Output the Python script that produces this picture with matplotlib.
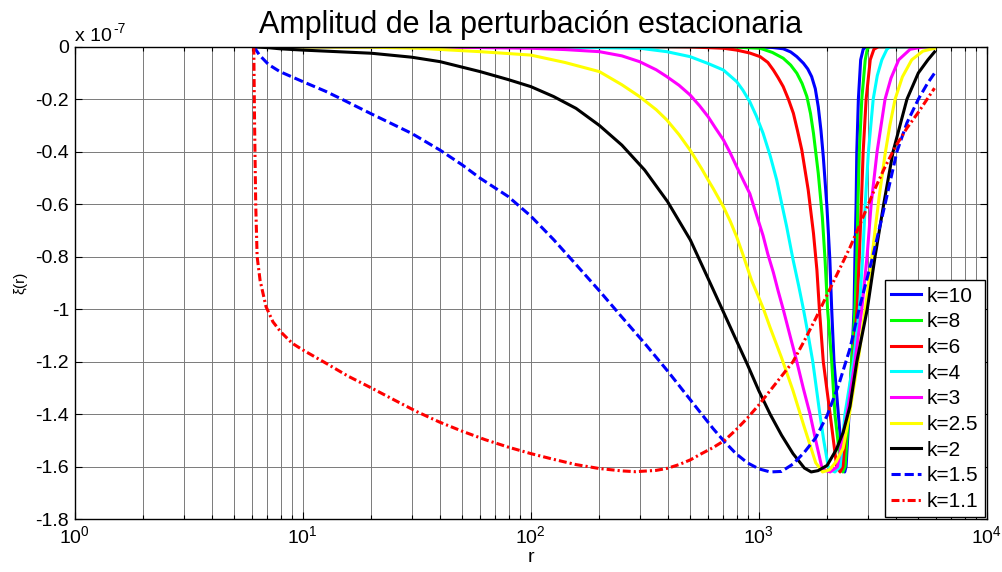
import numpy as np
import matplotlib
matplotlib.use("Agg")
import matplotlib.pyplot as plt
from matplotlib.ticker import FuncFormatter, LogLocator

plt.rcParams['font.family'] = ['Liberation Sans', 'DejaVu Sans']
plt.rcParams['axes.unicode_minus'] = False
plt.rcParams['mathtext.default'] = 'regular'

# xi(r) in units of 1e-7, one pair of lists per k
r_k10 = [6.1, 600, 1000, 1148, 1280, 1380, 1469, 1570, 1641, 1706, 1770, 1824, 1875, 1919, 1991, 2051, 2089,
         2138, 2234, 2312, 2350, 2382, 2415, 2489, 2559, 2618, 2642, 2673, 2692, 2735, 2799, 2871, 2951, 5900]
xi_k10 = [0, 0, -0.001, -0.003, -0.008, -0.02, -0.038, -0.063, -0.085, -0.114, -0.16, -0.229, -0.32, -0.419, -0.61, -0.813, -1.0,
          -1.2, -1.4, -1.55, -1.6, -1.62, -1.6, -1.4, -1.2, -1.0, -0.8, -0.6, -0.4, -0.2, -0.05, -0.01, 0, 0]

r_k8 = [6.1, 500, 800, 1014, 1148, 1280, 1380, 1469, 1549, 1626, 1687, 1738, 1824, 1901, 1954, 2004,
        2089, 2158, 2291, 2339, 2393, 2477, 2553, 2642, 2692, 2723, 2761, 2831, 2931, 2992, 3048, 5900]
xi_k8 = [0, 0, -0.002, -0.006, -0.022, -0.044, -0.07, -0.101, -0.14, -0.19, -0.255, -0.33, -0.482, -0.65, -0.813, -1.0,
         -1.2, -1.4, -1.6, -1.62, -1.6, -1.4, -1.2, -1.0, -0.8, -0.6, -0.4, -0.2, -0.05, -0.01, 0, 0]

r_k6 = [6.1, 400, 501, 700, 800, 912, 1014, 1096, 1159, 1216, 1280, 1349, 1419, 1479, 1545, 1648, 1738, 1799,
        1845, 1919, 2056, 2198, 2275, 2339, 2438, 2600, 2698, 2761, 2818, 2871, 2958, 3083, 3199, 3350, 5900]
xi_k6 = [0, 0, -0.001, -0.006, -0.013, -0.024, -0.038, -0.06, -0.089, -0.118, -0.152, -0.2, -0.254, -0.32, -0.394, -0.546, -0.711, -0.85,
         -1.0, -1.2, -1.4, -1.6, -1.62, -1.6, -1.4, -1.2, -1.0, -0.8, -0.6, -0.4, -0.2, -0.05, -0.01, 0, 0]

r_k4 = [6.1, 100, 301, 395, 500, 603, 700, 800, 851, 914, 977, 1045, 1122, 1199, 1259, 1326, 1413, 1496, 1570,
        1641, 1726, 1854, 1928, 2018, 2089, 2158, 2275, 2388, 2600, 2761, 2858, 2931, 3027, 3177, 3311, 3467,
        3648, 3767, 5900]
xi_k4 = [0, 0, -0.006, -0.019, -0.038, -0.065, -0.089, -0.133, -0.165, -0.21, -0.265, -0.33, -0.415, -0.508, -0.595, -0.686, -0.81, -0.91, -1.0,
         -1.09, -1.2, -1.4, -1.5, -1.6, -1.615, -1.62, -1.6, -1.4, -1.2, -1.0, -0.8, -0.6, -0.4, -0.2, -0.11, -0.05,
         -0.01, 0, 0]

r_k3 = [6.1, 30, 100, 141, 200, 251, 300, 355, 395, 447, 500, 550, 600, 646, 700, 750, 800, 851, 914, 977,
        1045, 1096, 1159, 1216, 1280, 1380, 1469, 1567, 1679, 1778, 1888, 1972, 2056, 2213, 2438, 2642, 2831,
        2985, 3112, 3304, 3581, 3802, 4111, 4613, 5358, 5900]
xi_k3 = [0, 0, -0.006, -0.011, -0.019, -0.035, -0.057, -0.088, -0.114, -0.147, -0.184, -0.225, -0.267, -0.31, -0.355, -0.405, -0.457, -0.505, -0.56, -0.64,
         -0.72, -0.79, -0.86, -0.93, -1.0, -1.11, -1.2, -1.3, -1.4, -1.5, -1.6, -1.615, -1.62, -1.6, -1.4, -1.2, -1.0,
         -0.8, -0.6, -0.4, -0.2, -0.12, -0.05, -0.01, 0, 0]

r_k25 = [6.1, 10, 20, 32, 60, 100, 141, 200, 251, 300, 355, 395, 447, 500, 562, 600, 631, 700, 750, 800,
         851, 929, 1000, 1050, 1122, 1259, 1413, 1585, 1778, 1905, 2042, 2188, 2344, 2477, 2630, 2754, 2931,
         3090, 3236, 3388, 3581, 3758, 3963, 4266, 4688, 5248, 5900]
xi_k25 = [0, -0.001, -0.002, -0.006, -0.019, -0.032, -0.06, -0.095, -0.145, -0.19, -0.24, -0.279, -0.335, -0.394, -0.465, -0.508, -0.54, -0.61, -0.665, -0.724,
          -0.79, -0.889, -0.955, -1.0, -1.07, -1.185, -1.31, -1.45, -1.585, -1.62, -1.612, -1.58, -1.53, -1.42, -1.28, -1.17, -1.0,
          -0.85, -0.7, -0.56, -0.41, -0.3, -0.2, -0.115, -0.05, -0.017, -0.006]

r_k2 = [6.1, 7.08, 7.94, 10, 20, 30, 40, 60, 79.4, 100, 126, 158, 200, 251, 316, 398, 501, 562, 631, 708,
        794, 891, 1000, 1122, 1259, 1413, 1585, 1698, 1820, 1995, 2188, 2344, 2512, 2692, 2992, 3236, 3532,
        3882, 4467, 5012, 5521, 5900]
xi_k2 = [0, -0.004, -0.008, -0.013, -0.025, -0.04, -0.057, -0.095, -0.125, -0.152, -0.19, -0.235, -0.3, -0.375, -0.47, -0.59, -0.736, -0.83, -0.925, -1.02,
         -1.115, -1.21, -1.31, -1.4, -1.48, -1.55, -1.605, -1.62, -1.615, -1.595, -1.535, -1.47, -1.37, -1.2, -1.0, -0.8, -0.6,
         -0.4, -0.2, -0.1, -0.05, -0.02]

r_k15 = [6.1, 6.46, 7.08, 7.94, 10, 12.6, 14.6, 20, 30, 40, 50, 60, 79.4, 100, 126, 158, 200, 251, 316, 398,
         501, 631, 708, 794, 891, 1000, 1122, 1259, 1413, 1585, 1778, 1995, 2239, 2512, 2754, 3162, 3581, 4036,
         4467, 5012, 5495, 5900]
xi_k15 = [0, -0.032, -0.068, -0.095, -0.133, -0.17, -0.197, -0.256, -0.33, -0.394, -0.45, -0.501, -0.57, -0.645, -0.735, -0.83, -0.93, -1.03, -1.13, -1.235,
          -1.345, -1.455, -1.505, -1.55, -1.585, -1.608, -1.62, -1.618, -1.59, -1.545, -1.49, -1.405, -1.29, -1.15, -1.0, -0.8, -0.6, -0.4,
          -0.29, -0.2, -0.14, -0.101]

r_k11 = [6.1, 6.15, 6.22, 6.31, 6.5, 6.9, 7.4, 8.0, 9.0, 10, 12.6, 15.8, 20, 25.1, 31.6, 39.8, 50.1, 63.1, 79.4, 100,
         126, 158, 200, 251, 288, 355, 398, 447, 501, 562, 631, 708, 794, 891, 1000, 1122, 1259, 1413, 1585, 1778,
         1995, 2239, 2512, 2818, 3162, 3548, 3981, 4467, 5012, 5900]
xi_k11 = [0, -0.3, -0.6, -0.8, -0.89, -0.99, -1.048, -1.086, -1.13, -1.155, -1.205, -1.255, -1.3, -1.345, -1.39, -1.43, -1.465, -1.497, -1.525, -1.55,
          -1.572, -1.592, -1.607, -1.616, -1.619, -1.614, -1.606, -1.592, -1.574, -1.55, -1.527, -1.5, -1.46, -1.415, -1.365, -1.31, -1.255, -1.2, -1.12, -1.035,
          -0.945, -0.855, -0.765, -0.665, -0.56, -0.465, -0.38, -0.31, -0.25, -0.158]

labels = ['k=10', 'k=8', 'k=6', 'k=4', 'k=3', 'k=2.5', 'k=2', 'k=1.5', 'k=1.1']

fig = plt.figure(figsize=(10.03, 5.72), dpi=100)
ax = fig.add_axes([0.0745, 0.0923, 0.9093, 0.8261])

series = [
    (r_k10, xi_k10, '#0000ff', '-'),
    (r_k8, xi_k8, '#00ff00', '-'),
    (r_k6, xi_k6, '#ff0000', '-'),
    (r_k4, xi_k4, '#00ffff', '-'),
    (r_k3, xi_k3, '#ff00ff', '-'),
    (r_k25, xi_k25, '#ffff00', '-'),
    (r_k2, xi_k2, '#000000', '-'),
    (r_k15, xi_k15, '#0000ff', (0, (3, 1.3))),
    (r_k11, xi_k11, '#ff0000', (0, (2.6, 1.0, 0.7, 1.0))),
]
for (r, xi, col, ls), lab in zip(series, labels):
    ax.plot(r, xi, color=col, linestyle=ls, linewidth=2.2, label=lab)

ax.set_xscale('log')
ax.set_xlim(1, 1e4)
ax.set_ylim(-1.8, 0)
ax.set_yticks(np.arange(-1.8, 0.01, 0.2))
ax.yaxis.set_major_formatter(FuncFormatter(lambda v, p: '%g' % (round(v, 1) + 0.0)))
ax.xaxis.set_minor_locator(LogLocator(base=10, subs=np.arange(2, 10), numticks=20))

ax.grid(True, which='major', color='#7a7a7a', linewidth=0.7)
ax.grid(True, which='minor', axis='x', color='#7a7a7a', linewidth=0.7)
ax.tick_params(which='both', direction='in', top=True, right=True, labelsize=14, width=0.8)
ax.tick_params(which='major', length=5, pad=4)
ax.tick_params(which='minor', length=3)
for s in ax.spines.values():
    s.set_linewidth(1.0)

ax.set_title('Amplitud de la perturbación estacionaria', fontsize=22, pad=10)
ax.set_xlabel('r', fontsize=14, labelpad=2)
ax.set_ylabel('ξ(r)', fontsize=11, labelpad=6)

# axis multiplier, written out so the exponent keeps a plain hyphen
ax.text(0.0, 1.004, 'x 10', transform=ax.transAxes, fontsize=14, ha='left', va='bottom')
ax.annotate('-7', xy=(0, 1), xycoords='axes fraction', xytext=(27.5, 10),
            textcoords='offset points', fontsize=10, ha='left', va='baseline')

leg = ax.legend(loc='lower right', fontsize=15, fancybox=False, edgecolor='black', framealpha=1,
                handlelength=1.4, handletextpad=0.3, labelspacing=0.32, borderpad=0.3, borderaxespad=0.1)
leg.get_frame().set_linewidth(1.0)

fig.savefig('out.png', dpi=100)
